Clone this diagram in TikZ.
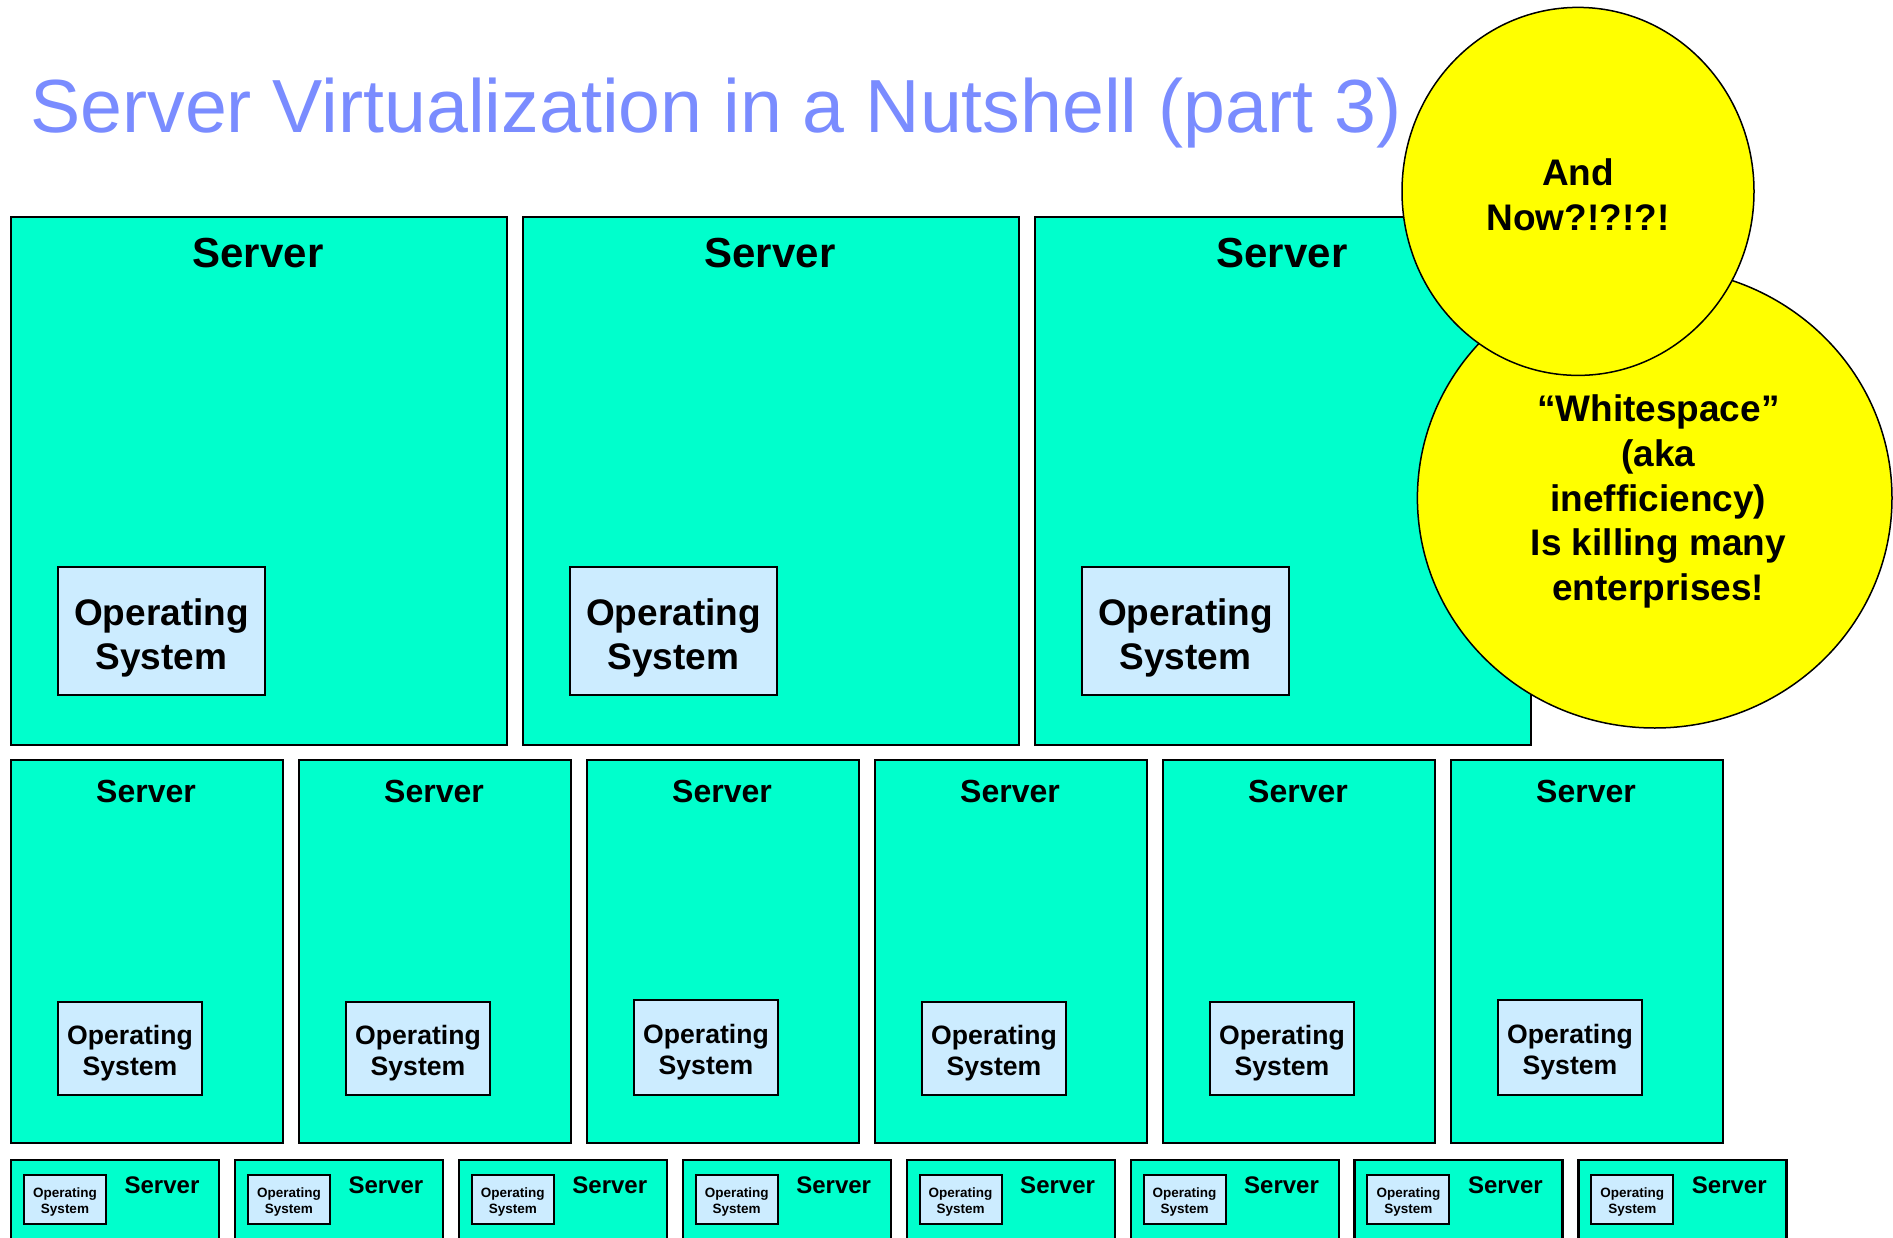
\documentclass[tikz,border=0pt]{standalone}
\usepackage{fontspec}
\setmainfont{Liberation Sans}
\usetikzlibrary{shapes.geometric}
\definecolor{srvfill}{RGB}{0,255,204}
\definecolor{osfill}{RGB}{204,236,255}
\definecolor{titleblue}{RGB}{122,140,255}
\definecolor{noteyellow}{RGB}{255,255,0}
\tikzset{
  srvbox/.style={draw=black, line width=2.4pt, fill=srvfill, inner sep=0pt, anchor=north west},
  osbox/.style={draw=black, line width=2pt, fill=osfill, inner sep=0pt},
  ostext/.style={inner sep=0pt, align=center},
  srvlabel/.style={inner sep=0pt, font=\bfseries},
  bubble/.style={ellipse, draw=black, line width=1.5pt, fill=noteyellow, inner sep=0pt},
  bubbletext/.style={inner sep=0pt, align=center, font=\bfseries\fontsize{37}{44.7}\selectfont},
}
\begin{document}
\begin{tikzpicture}[x=1pt,y=-1pt]
\useasboundingbox (0,0) rectangle (1893,1238);
\clip (0,0) rectangle (1893,1238);
\fill[white] (0,0) rectangle (1893,1238);

\node[anchor=base west, text=titleblue, inner sep=0pt, font=\fontsize{75.3}{90}\selectfont] (title) at (30,133) {Server Virtualization in a Nutshell (part 3)};

% Row 1: three large servers
\foreach \i/\x in {1/10,2/522,3/1034} {
  \node[srvbox, minimum width=496, minimum height=528] (sa\i) at (\x,216) {};
  \node[srvlabel, font=\bfseries\fontsize{42}{48}\selectfont] (sal\i) at (\x+248,253.5) {Server};
  \node[osbox, minimum width=207, minimum height=128] (oa\i) at (\x+151.5,631) {};
  \node[ostext, font=\bfseries\fontsize{37}{43.5}\selectfont] (oat\i) at ([yshift=-7pt]oa\i.center) {Operating\\System};
}

% Row 2: six medium servers
\foreach \i/\dy/\h in {0/1048.5/93,1/1048.5/93,2/1047.5/95,3/1048.5/93,4/1048.5/93,5/1047.5/95} {
  \pgfmathsetmacro{\x}{10+288*\i}
  \node[srvbox, minimum width=272, minimum height=383] (sb\i) at (\x,759) {};
  \node[srvlabel, font=\bfseries\fontsize{32}{37}\selectfont] (sbl\i) at (\x+136,791) {Server};
  \node[osbox, minimum width=144, minimum height=\h] (ob\i) at (\x+120,\dy) {};
  \node[ostext, font=\bfseries\fontsize{26.6}{31.4}\selectfont] (obt\i) at ([yshift=-4.5pt]ob\i.center) {Operating\\System};
}

% Row 3: eight small servers
\foreach \i in {0,...,7} {
  \pgfmathsetmacro{\x}{10+223.9*\i}
  \node[srvbox, minimum width=208, minimum height=150] (sc\i) at (\x,1159) {};
  \node[srvlabel, font=\bfseries\fontsize{24}{28}\selectfont] (scl\i) at (\x+152,1185.6) {Server};
  \node[osbox, minimum width=82, minimum height=49] (oc\i) at (\x+55,1199.5) {};
  \node[ostext, font=\bfseries\fontsize{13.5}{15.4}\selectfont] (oct\i) at ([yshift=-2.5pt]oc\i.center) {Operating\\System};
}

% Bubbles
\node[bubble, minimum width=474.6, minimum height=460] (big) at (1654.7,498) {};
\node[bubbletext] (bigtext) at ([xshift=3.6pt, yshift=-3.6pt]big.center) {“Whitespace”\\(aka\\inefficiency)\\Is killing many\\enterprises!};
\node[bubble, minimum width=352, minimum height=368] (small) at (1578,191.4) {};
\node[bubbletext] (smalltext) at ([yshift=-3.6pt]small.center) {And\\Now?!?!?!};
\end{tikzpicture}
\end{document}
